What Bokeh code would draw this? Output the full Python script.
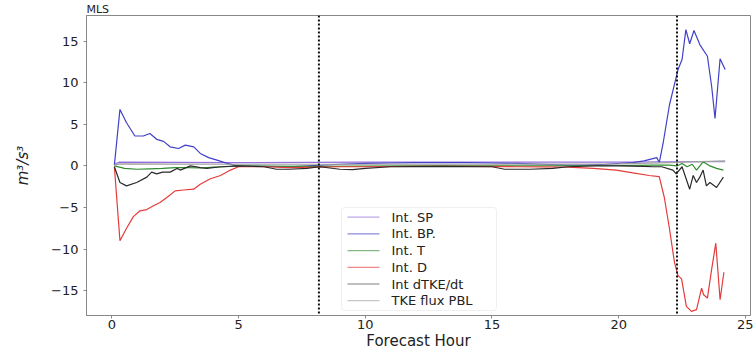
from bokeh.plotting import figure
from bokeh.models import (FixedTicker, CustomJSTickFormatter, Span, Range1d, Label,
                          BoxAnnotation, PolyAnnotation)
from bokeh.embed import file_html
from bokeh.resources import INLINE

# ---- data ----
bp_x = [0.1, 0.32, 0.58, 0.91, 1.24, 1.5, 1.77, 2.04, 2.3, 2.63, 2.9, 3.23, 3.49, 3.82, 4.15, 4.55, 4.95,
        6, 7, 8, 9, 10, 11, 12, 13, 14, 15, 16, 17, 18, 18.6, 19.5, 20.55, 21.0, 21.5, 21.6, 21.75,
        22.0, 22.34, 22.5, 22.65, 22.8, 22.97, 23.2, 23.5, 23.67, 23.8, 24.0, 24.2]
bp_y = [0.1, 6.8, 5.2, 3.6, 3.6, 3.9, 3.2, 2.95, 2.3, 2.1, 2.5, 2.3, 1.5, 1.0, 0.7, 0.3, 0.0,
        -0.05, -0.1, 0.05, 0.2, 0.3, 0.35, 0.4, 0.4, 0.4, 0.35, 0.3, 0.2, 0.1, 0.1, 0.2, 0.4, 0.6, 1.0, 0.4, 2.7,
        7.3, 11.6, 12.8, 16.4, 14.7, 16.3, 14.6, 13.2, 9.5, 5.7, 12.9, 11.6]

d_x = [0.1, 0.32, 0.58, 0.85, 1.11, 1.38, 1.64, 1.9, 2.17, 2.5, 2.83, 3.23, 3.49, 3.89, 4.29, 4.68, 5.0,
       6, 7, 8, 9, 10, 12, 14, 16, 18, 19, 19.9, 20.5, 21.2, 21.6, 21.8, 22.0, 22.2, 22.34, 22.48,
       22.67, 22.87, 23.07, 23.27, 23.35, 23.5, 23.67, 23.83, 24.0, 24.15]
d_y = [-0.1, -9.0, -7.5, -6.1, -5.4, -5.25, -4.8, -4.4, -3.8, -3.0, -2.9, -2.8, -2.2, -1.55, -1.15, -0.5, -0.1,
       -0.1, -0.2, -0.15, -0.1, -0.1, -0.05, -0.05, -0.1, -0.15, -0.3, -0.5, -0.8, -1.15, -1.3, -3.8, -7.5, -11.6,
       -13.2, -13.6, -16.9, -17.5, -17.3, -14.7, -15.5, -15.9, -12.4, -9.3, -16.1, -12.8]

dtke_x = [0.1, 0.32, 0.58, 0.98, 1.38, 1.57, 1.77, 2.0, 2.3, 2.57, 2.7, 3.1, 3.5, 3.75, 4.3, 5, 6, 6.5, 7.0,
          7.7, 8.2, 9.0, 9.5, 10.0, 11, 13, 15, 15.5, 16.5, 17.4, 18, 19, 20, 21, 21.35, 21.7, 22.14, 22.27,
          22.5, 22.8, 22.94, 23.07, 23.2, 23.33, 23.46, 23.6, 23.86, 24.13]
dtke_y = [-0.1, -2.0, -2.4, -2.0, -1.35, -0.74, -0.95, -0.75, -0.75, -0.3, -0.5, 0.0, -0.2, -0.3, -0.1, 0.0,
          -0.1, -0.4, -0.4, -0.3, -0.1, -0.4, -0.45, -0.3, -0.1, -0.05, -0.1, -0.4, -0.4, -0.3, -0.1, 0.0, 0.0,
          -0.05, -0.1, -0.1, -0.5, -0.95, -0.1, -2.8, -1.15, -2.0, -1.35, -0.5, -2.4, -2.0, -2.6, -1.35]

t_x = [0.1, 0.5, 1.0, 1.5, 2.0, 2.5, 3.0, 3.5, 4.0, 4.5, 5.0, 8, 12, 16, 20, 21.5, 22.0, 22.3, 22.5, 22.7,
       22.9, 23.07, 23.33, 23.6, 23.86, 24.13]
t_y = [0.0, -0.3, -0.4, -0.35, -0.3, -0.2, -0.2, -0.25, -0.15, -0.1, 0.0, -0.05, 0.0, 0.0, 0.05, 0.1, 0.1,
       0.0, 0.3, -0.1, 0.2, -0.5, 0.5, 0.0, -0.3, -0.5]

sp_x = [0.1, 0.3, 5, 10, 15, 20, 22, 24.2]
sp_y = [0.2, 0.45, 0.4, 0.45, 0.45, 0.45, 0.5, 0.5]

flux_x = [0.1, 0.3, 5, 10, 15, 20, 22, 24.2]
flux_y = [0.1, 0.25, 0.2, 0.2, 0.2, 0.25, 0.4, 0.6]

vlines = [8.17, 22.3]
x_ticks = [0, 5, 10, 15, 20, 25]
y_ticks = [-15, -10, -5, 0, 5, 10, 15]

p = figure(width=753, height=352, output_backend="svg", toolbar_location=None,
           x_range=Range1d(-1.0, 25.2), y_range=Range1d(-18.0, 18.1),
           min_border_left=86, min_border_right=3, min_border_top=3, min_border_bottom=37)
p.background_fill_color = "white"
p.border_fill_color = "white"
p.xgrid.visible = False
p.ygrid.visible = False
p.outline_line_color = "#888888"
p.outline_line_width = 1

p.title.text = "MLS"
p.title.text_font = "DejaVu Sans"
p.title.text_font_size = "11px"
p.title.text_font_style = "normal"
p.title.text_color = "#222222"
p.title.standoff = 0
p.title.offset = 0

fmt = CustomJSTickFormatter(code="return tick < 0 ? '\\u2212' + Math.abs(tick) : String(tick);")
for ax in (p.xaxis[0], p.yaxis[0]):
    ax.axis_line_color = "#888888"
    ax.major_tick_line_color = "#888888"
    ax.minor_tick_line_color = None
    ax.major_tick_in = 0
    ax.major_tick_out = 3
    ax.major_label_text_font = "DejaVu Sans"
    ax.major_label_text_font_size = "13px"
    ax.major_label_text_color = "#222222"
    ax.axis_label_text_font = "DejaVu Sans"
    ax.axis_label_text_font_size = "15px"
    ax.axis_label_text_color = "#222222"
    ax.formatter = fmt
p.xaxis.ticker = FixedTicker(ticks=x_ticks)
p.yaxis.ticker = FixedTicker(ticks=y_ticks)
p.xaxis.axis_label = "Forecast Hour"
p.xaxis.axis_label_text_font_style = "normal"
p.xaxis.axis_label_standoff = 0
p.xaxis.major_label_standoff = 1
p.yaxis.axis_label = "m³/s³"
p.yaxis.axis_label_text_font_style = "italic"
p.yaxis.axis_label_standoff = 16

series = [
    ("Int. SP", sp_x, sp_y, "#9370db"),
    ("Int. BP.", bp_x, bp_y, "#4040c8"),
    ("Int. T", t_x, t_y, "#2e8b2e"),
    ("Int. D", d_x, d_y, "#e53b3b"),
    ("Int dTKE/dt", dtke_x, dtke_y, "#2a2a2a"),
    ("TKE flux PBL", flux_x, flux_y, "#a0a0a0"),
]
for name, xs, ys, col in series:
    p.line(xs, ys, line_color=col, line_width=1.2)

for xv in vlines:
    p.add_layout(Span(location=xv, dimension="height", line_color="#111111",
                      line_width=2, line_dash="2 2"))

# ---- legend drawn with screen-unit annotations (frame-relative pixels) ----
LEG_LEFT, LEG_RIGHT, LEG_BOTTOM, LEG_TOP = 255, 410, 5, 108
ROW_TOP, ROW_STEP = 98.3, 16.7
GLYPH_X0, GLYPH_X1, TEXT_X = 261, 293, 305

p.add_layout(BoxAnnotation(left=LEG_LEFT, right=LEG_RIGHT, bottom=LEG_BOTTOM, top=LEG_TOP,
                           left_units="screen", right_units="screen",
                           bottom_units="screen", top_units="screen",
                           fill_color="white", fill_alpha=0.85,
                           line_color="#cccccc", line_width=1, border_radius=3))
for i, (name, xs, ys, col) in enumerate(series):
    yc = ROW_TOP - i * ROW_STEP
    p.add_layout(PolyAnnotation(xs=[GLYPH_X0, GLYPH_X1, GLYPH_X0], ys=[yc, yc, yc],
                                xs_units="screen", ys_units="screen",
                                fill_color=None, line_color=col, line_width=1.2, line_alpha=0.6))
    p.add_layout(Label(x=TEXT_X, y=yc, x_units="screen", y_units="screen", text=name,
                       text_font="DejaVu Sans", text_font_size="13px", text_color="#222222",
                       text_baseline="middle", text_align="left"))

open("out.html", "w").write(file_html(p, INLINE))
